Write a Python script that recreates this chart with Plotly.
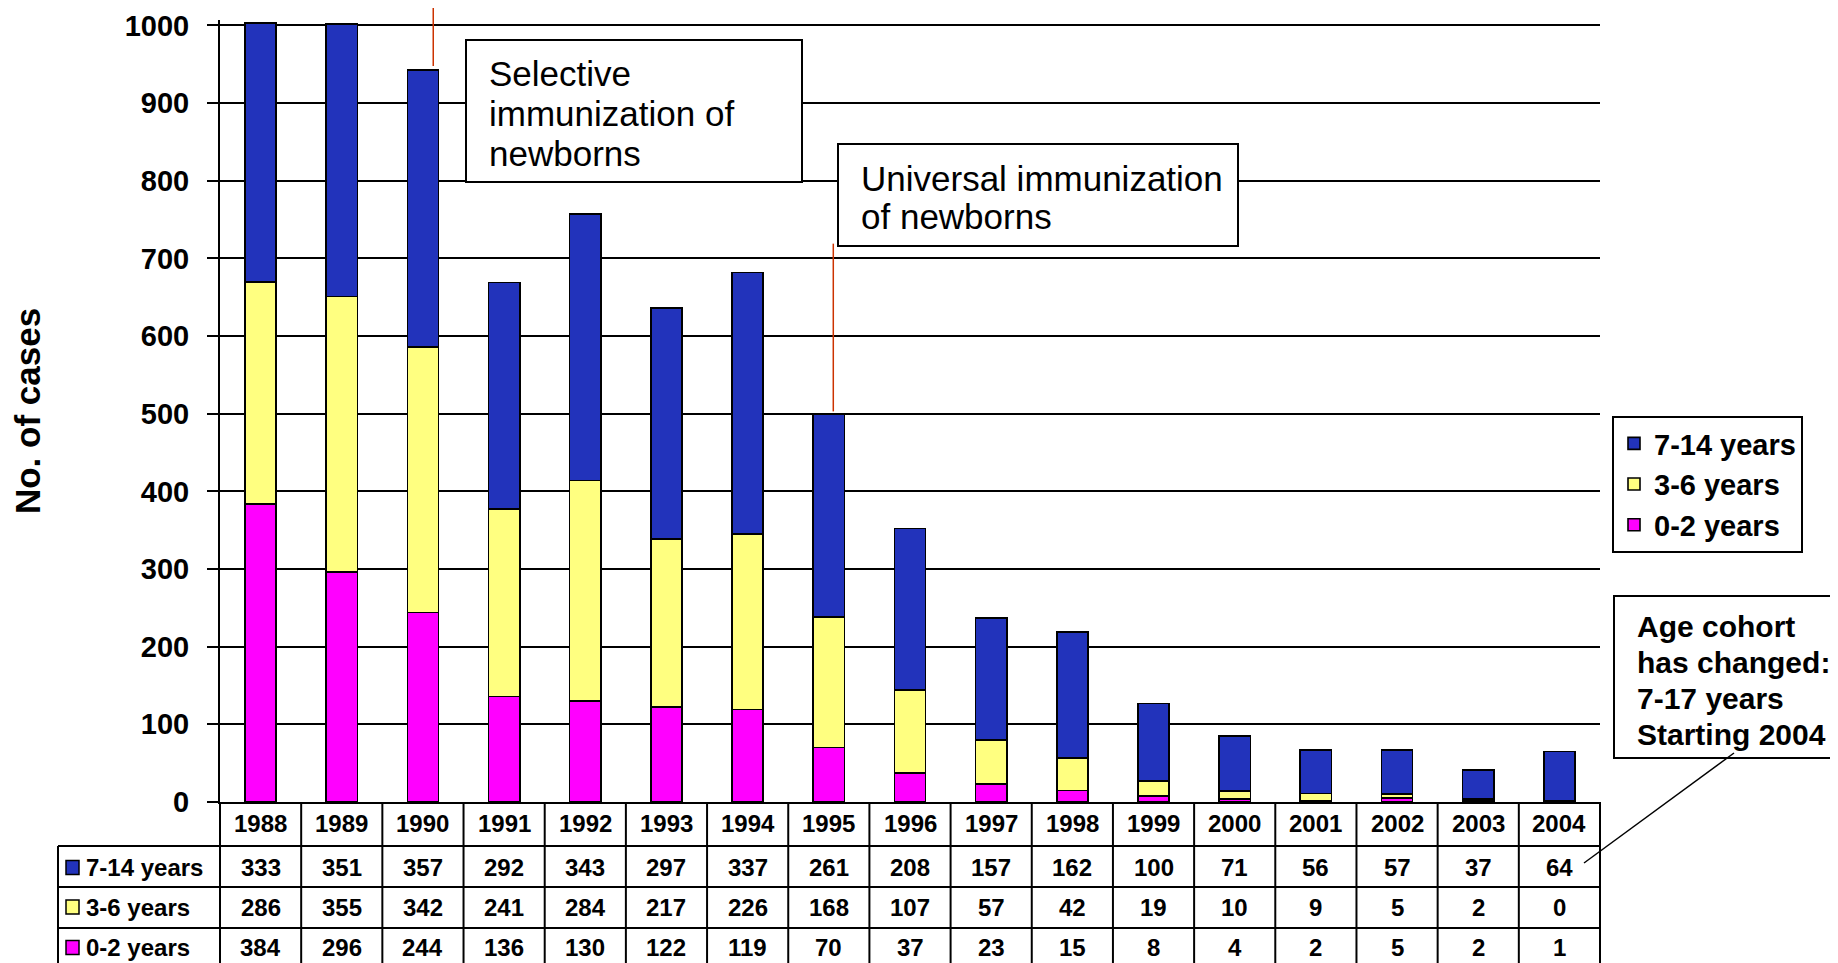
import plotly.graph_objects as go

# ---------------- data ----------------
years = [str(y) for y in range(1988, 2005)]
cases_7_14 = [333, 351, 357, 292, 343, 297, 337, 261, 208, 157, 162, 100, 71, 56, 57, 37, 64]
cases_3_6 = [286, 355, 342, 241, 284, 217, 226, 168, 107, 57, 42, 19, 10, 9, 5, 2, 0]
cases_0_2 = [384, 296, 244, 136, 130, 122, 119, 70, 37, 23, 15, 8, 4, 2, 5, 2, 1]
y_tick_values = list(range(0, 1001, 100))
y_title = "No. of cases"
note_selective = ["Selective", "immunization of", "newborns"]
note_universal = ["Universal immunization", "of newborns"]
note_cohort = ["Age cohort", "has changed:", "7-17 years", "Starting 2004"]

series = [  # bottom to top
    ("0-2 years", cases_0_2, "#FF00FF"),
    ("3-6 years", cases_3_6, "#FFFF80"),
    ("7-14 years", cases_7_14, "#2233BB"),
]
table_rows = [series[2], series[1], series[0]]  # table order

# ---------------- layout geometry (screen pixels; page body has an 8px margin) ----------------
OFF = 8
W, H = 1838 - OFF, 963 - OFF
X_LEFT, X_RIGHT = 220, 1600     # screen x of plot area
Y_TOP, Y_BASE = 20, 802         # screen y of plot area
L = X_LEFT - OFF
R = W - (X_RIGHT - OFF)
T = Y_TOP - OFF
B = H - (Y_BASE - OFF)
PW, PH = X_RIGHT - X_LEFT, Y_BASE - Y_TOP


def px(xs):
    return (xs - X_LEFT) / PW


def py(ys):
    return (Y_BASE - ys) / PH


FONT = "Liberation Sans, Arial, Helvetica, sans-serif"

fig = go.Figure()
for name, vals, col in series:
    fig.add_trace(go.Bar(
        x=years, y=vals, name=name,
        marker=dict(color=col, line=dict(color="black", width=1.6)),
    ))

shapes = []
annotations = []

# ---------------- data table under the chart ----------------
header_c = 823.5
row_lines = [846, 887, 928, 972]
row_c = [867.5, 907, 947.5]
label_left = 58
cell_font = dict(family=FONT, size=24, color="black", weight="bold")

for j, yr in enumerate(years):
    annotations.append(dict(x=j, xref="x", y=py(header_c), yref="paper", text=yr,
                            showarrow=False, yanchor="middle", font=cell_font))
for (name, vals, col), yc in zip(table_rows, row_c):
    for j, v in enumerate(vals):
        annotations.append(dict(x=j, xref="x", y=py(yc), yref="paper", text=str(v),
                                showarrow=False, yanchor="middle", font=cell_font))
    shapes.append(dict(type="rect", xref="paper", yref="paper",
                       x0=px(66), x1=px(79), y0=py(yc + 7), y1=py(yc - 7),
                       fillcolor=col, line=dict(color="black", width=1.5)))
    annotations.append(dict(x=px(84), xref="paper", y=py(yc), yref="paper", text=name,
                            showarrow=False, xanchor="left", yanchor="middle",
                            font=cell_font))

n = len(years)
for k in range(1, n):
    shapes.append(dict(type="line", xref="x", yref="paper", x0=k - 0.5, x1=k - 0.5,
                       y0=py(Y_BASE), y1=py(row_lines[-1]), line=dict(color="black", width=2)))
for xx in (0, 1):
    shapes.append(dict(type="line", xref="paper", yref="paper", x0=xx, x1=xx,
                       y0=py(Y_BASE), y1=py(row_lines[-1]), line=dict(color="black", width=2)))
shapes.append(dict(type="line", xref="paper", yref="paper", x0=px(label_left), x1=px(label_left),
                   y0=py(row_lines[0]), y1=py(row_lines[-1]), line=dict(color="black", width=2)))
for yl in row_lines:
    shapes.append(dict(type="line", xref="paper", yref="paper", x0=px(label_left), x1=1,
                       y0=py(yl), y1=py(yl), line=dict(color="black", width=2)))


# ---------------- callout boxes ----------------
def box(x0, y0, x1, y1, lines, left, centers, size, bold):
    shapes.append(dict(type="rect", xref="paper", yref="paper", layer="above",
                       x0=px(x0), x1=px(x1), y0=py(y1), y1=py(y0),
                       fillcolor="white", line=dict(color="black", width=2)))
    for t, c in zip(lines, centers):
        annotations.append(dict(x=px(left), xref="paper", y=py(c), yref="paper", text=t,
                                showarrow=False, xanchor="left", yanchor="middle",
                                font=dict(family=FONT, size=size, color="black",
                                          weight="bold" if bold else "normal")))


box(466, 40, 802, 182, note_selective, 487, [74, 113.5, 153], 35, False)
box(838, 144, 1238, 246, note_universal, 859, [178, 217], 35, False)
box(1614, 596, 1860, 758, note_cohort, 1635, [626, 662, 698, 734], 30, True)

# pointer lines
shapes.append(dict(type="line", xref="x", yref="paper", x0=2.127, x1=2.127,
                   y0=py(66), y1=py(-5), line=dict(color="#CC3300", width=1.5)))
shapes.append(dict(type="line", xref="x", yref="y", x0=7.055, x1=7.055,
                   y0=503, y1=719, line=dict(color="#CC3300", width=1.5)))
shapes.append(dict(type="line", xref="paper", yref="paper", x0=px(1734), x1=px(1584),
                   y0=py(753), y1=py(863), line=dict(color="black", width=1.5)))

fig.update_layout(
    width=W, height=H,
    margin=dict(l=L, r=R, t=T, b=B, autoexpand=False),
    paper_bgcolor="white", plot_bgcolor="white",
    barmode="stack", bargap=0.615,
    font=dict(family=FONT, color="black"),
    showlegend=True,
    legend=dict(x=px(1612), y=py(416), xanchor="left", yanchor="top",
                traceorder="reversed", bgcolor="white",
                bordercolor="black", borderwidth=2,
                font=dict(family=FONT, size=29, color="black", weight="bold")),
    xaxis=dict(type="category", range=[-0.5, n - 0.5], showticklabels=False,
               ticks="", showline=True, linecolor="black", linewidth=2,
               showgrid=False, zeroline=False, fixedrange=True),
    yaxis=dict(range=[0, 1007], tickmode="array", tickvals=y_tick_values,
               ticks="outside", ticklen=11, tickwidth=2, tickcolor="black",
               ticklabelstandoff=12,
               tickfont=dict(family=FONT, size=29, color="black", weight="bold"),
               showline=True, linecolor="black", linewidth=2,
               showgrid=True, gridcolor="black", gridwidth=1.6, zeroline=False,
               title=dict(text=y_title, standoff=80,
                          font=dict(family=FONT, size=35, color="black", weight="bold"))),
    shapes=shapes,
    annotations=annotations,
)

fig.write_html("out.html")
